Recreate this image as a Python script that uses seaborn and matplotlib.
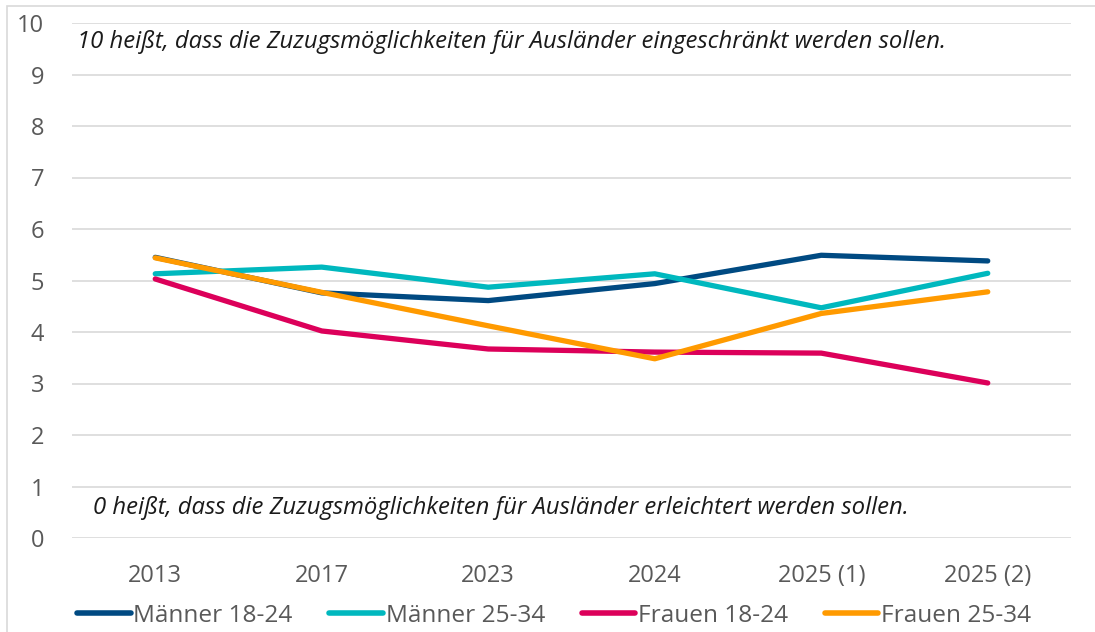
import matplotlib.pyplot as plt
import matplotlib.patches as mpatches
import pandas as pd
import seaborn as sns

years = ['2013', '2017', '2023', '2024', '2025 (1)', '2025 (2)']
maenner_18_24 = [5.45, 4.76, 4.61, 4.94, 5.49, 5.38]
maenner_25_34 = [5.13, 5.26, 4.87, 5.13, 4.47, 5.14]
frauen_18_24 = [5.03, 4.02, 3.67, 3.61, 3.59, 3.01]
frauen_25_34 = [5.44, 4.77, 4.12, 3.48, 4.36, 4.78]

groups = {
    'Männer 18-24': maenner_18_24,
    'Männer 25-34': maenner_25_34,
    'Frauen 18-24': frauen_18_24,
    'Frauen 25-34': frauen_25_34,
}
palette = {
    'Männer 18-24': '#004A82',
    'Männer 25-34': '#00B8BE',
    'Frauen 18-24': '#DC005A',
    'Frauen 25-34': '#FF9A00',
}

rows = []
for name, vals in groups.items():
    for yr, v in zip(years, vals):
        rows.append({'Jahr': yr, 'Wert': v, 'Gruppe': name})
df = pd.DataFrame(rows)

sns.set_style('white')
plt.rcParams['font.family'] = ['Open Sans', 'DejaVu Sans']

fig = plt.figure(figsize=(10.95, 6.32), dpi=100)
ax = fig.add_axes([72 / 1095, 1 - 538 / 632, 999 / 1095, 515 / 632])

sns.lineplot(data=df, x='Jahr', y='Wert', hue='Gruppe', palette=palette,
             sort=False, linewidth=3.8, ax=ax, legend=True)
for line in ax.lines:
    line.set_solid_capstyle('round')

ax.set_xlim(-0.5, 5.5)
ax.set_ylim(0, 10)
ax.set_yticks(range(0, 11))
ax.yaxis.grid(True, color='#D9D9D9', linewidth=1.2)
ax.set_axisbelow(True)
for s in ax.spines.values():
    s.set_visible(False)
ax.tick_params(axis='both', length=0, labelsize=17, labelcolor='#595959')
ax.tick_params(axis='x', pad=19)
ax.tick_params(axis='y', pad=20)
ax.set_xlabel('')
ax.set_ylabel('')

ax.text(0.005, 9.63, '10 heißt, dass die Zuzugsmöglichkeiten für Ausländer eingeschränkt werden sollen.',
        transform=ax.get_yaxis_transform(), fontsize=17.2, style='italic',
        color='#1a1a1a', va='center', ha='left')
ax.text(0.021, 0.58, '0 heißt, dass die Zuzugsmöglichkeiten für Ausländer erleichtert werden sollen.',
        transform=ax.get_yaxis_transform(), fontsize=17.2, style='italic',
        color='#1a1a1a', va='center', ha='left')

handles, labels = ax.get_legend_handles_labels()
ax.get_legend().remove()
for h in handles:
    h.set_linewidth(4)
    h.set_solid_capstyle('round')
fig.legend(handles, labels, loc='center', bbox_to_anchor=(0.506, 0.026), ncol=4,
           frameon=False, fontsize=17.6, handlelength=2.2, handletextpad=0.1,
           columnspacing=1.5, labelcolor='#595959')

# outer frame (left and top edge visible)
fig.add_artist(mpatches.Rectangle((7 / 1095, -0.1), 1.2, 1 - 6 / 632 + 0.1,
                                  transform=fig.transFigure, fill=False,
                                  edgecolor='#D9D9D9', linewidth=1.2))

fig.savefig('out.png', dpi=100)
